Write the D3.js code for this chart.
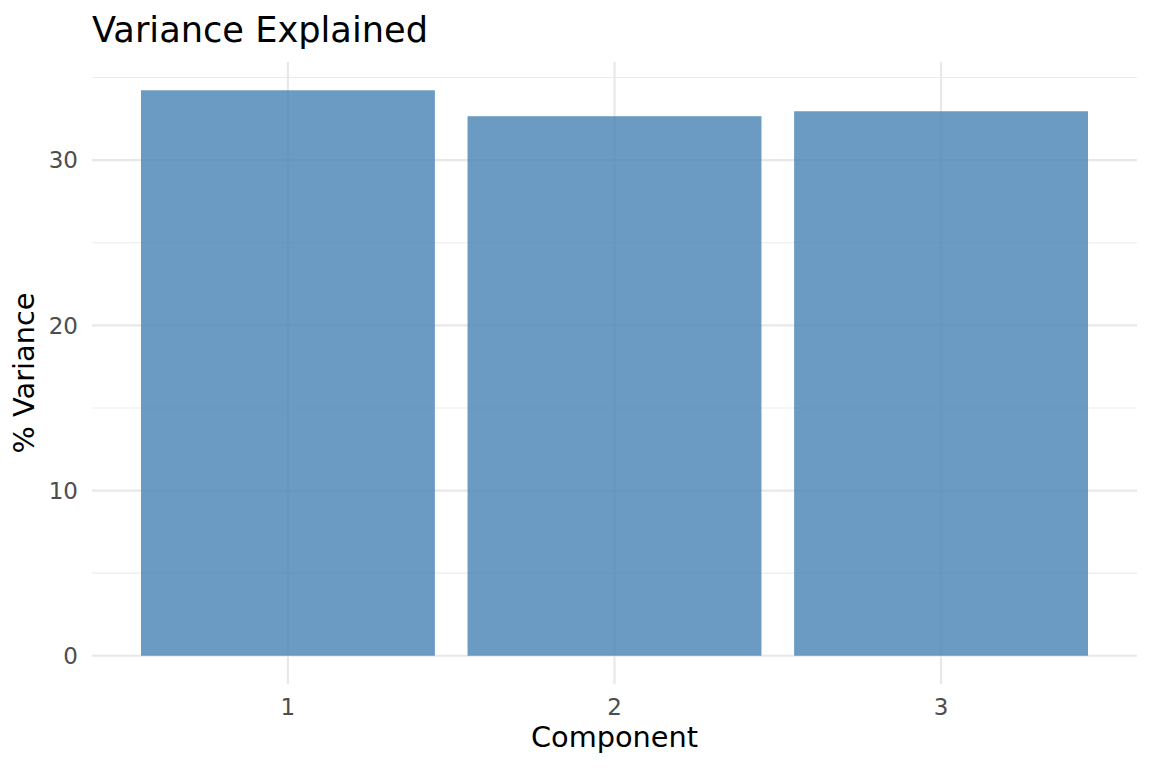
<!DOCTYPE html>
<html>
<head>
<meta charset="utf-8">
<script src="https://cdn.jsdelivr.net/npm/d3@7"></script>
<style>
  body { margin: 0; background: #fff; }
  text { font-family: "DejaVu Sans", sans-serif; }
</style>
</head>
<body>
<div id="chart"></div>
<script>
// data
var components = ["1", "2", "3"];
var variance = [34.23, 32.66, 32.96];
var yTicks = [0, 10, 20, 30];
var yMinor = [5, 15, 25, 35];

var width = 1152, height = 768;
var panelLeft = 92, panelRight = 1137, panelTop = 62, panelBottom = 684;

var svg = d3.select("#chart").append("svg")
  .attr("width", width)
  .attr("height", height);

// ggplot style expansion: 5% on the y range, 0.6 units on discrete x
var yMax = d3.max(variance);
var y = d3.scaleLinear()
  .domain([-0.05 * yMax, yMax * 1.05])
  .range([panelBottom, panelTop]);

var x = d3.scaleLinear()
  .domain([0.4, components.length + 0.6])
  .range([panelLeft, panelRight]);

var grid = svg.append("g");

// minor grid
grid.selectAll(".minor").data(yMinor).enter().append("line")
  .attr("x1", panelLeft).attr("x2", panelRight)
  .attr("y1", function(d) { return y(d); })
  .attr("y2", function(d) { return y(d); })
  .attr("stroke", "#ebebeb").attr("stroke-width", 1.1);

// major grid
grid.selectAll(".major").data(yTicks).enter().append("line")
  .attr("x1", panelLeft).attr("x2", panelRight)
  .attr("y1", function(d) { return y(d); })
  .attr("y2", function(d) { return y(d); })
  .attr("stroke", "#e8e8e8").attr("stroke-width", 2.2);

grid.selectAll(".vmajor").data(components).enter().append("line")
  .attr("x1", function(d, i) { return x(i + 1); })
  .attr("x2", function(d, i) { return x(i + 1); })
  .attr("y1", panelTop).attr("y2", panelBottom)
  .attr("stroke", "#e8e8e8").attr("stroke-width", 2.2);

// bars
svg.selectAll(".bar").data(variance).enter().append("rect")
  .attr("x", function(d, i) { return x(i + 1 - 0.45); })
  .attr("width", function(d, i) { return x(i + 1 + 0.45) - x(i + 1 - 0.45); })
  .attr("y", function(d) { return y(d); })
  .attr("height", function(d) { return y(0) - y(d); })
  .attr("fill", "steelblue")
  .attr("fill-opacity", 0.8);

// y tick labels
svg.selectAll(".ylab").data(yTicks).enter().append("text")
  .attr("x", 78)
  .attr("y", function(d) { return y(d); })
  .attr("dy", "0.36em")
  .attr("text-anchor", "end")
  .attr("font-size", 23)
  .attr("fill", "#4d4d4d")
  .text(function(d) { return d; });

// x tick labels
svg.selectAll(".xlab").data(components).enter().append("text")
  .attr("x", function(d, i) { return x(i + 1); })
  .attr("y", 715)
  .attr("text-anchor", "middle")
  .attr("font-size", 23)
  .attr("fill", "#4d4d4d")
  .text(function(d) { return d; });

// axis titles
svg.append("text")
  .attr("x", (panelLeft + panelRight) / 2)
  .attr("y", 747)
  .attr("text-anchor", "middle")
  .attr("font-size", 28.8)
  .attr("fill", "#000")
  .text("Component");

svg.append("text")
  .attr("transform", "translate(34," + ((panelTop + panelBottom) / 2) + ") rotate(-90)")
  .attr("text-anchor", "middle")
  .attr("font-size", 28.8)
  .attr("fill", "#000")
  .text("% Variance");

// title
svg.append("text")
  .attr("x", 92)
  .attr("y", 42)
  .attr("font-size", 35.2)
  .attr("fill", "#000")
  .text("Variance Explained");
</script>
</body>
</html>
